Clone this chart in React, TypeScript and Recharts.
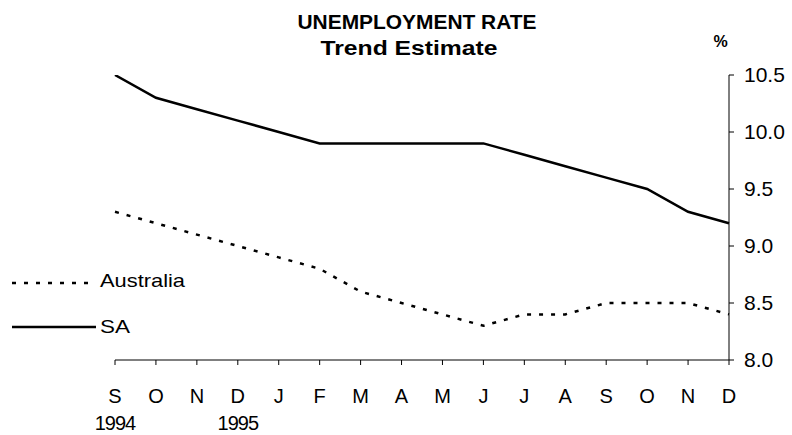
import { LineChart, Line, XAxis, YAxis } from 'recharts';

const months = ['S', 'O', 'N', 'D', 'J', 'F', 'M', 'A', 'M', 'J', 'J', 'A', 'S', 'O', 'N', 'D'];
const years = ['1994', '', '', '1995', '', '', '', '', '', '', '', '', '', '', '', ''];
const sa = [10.5, 10.3, 10.2, 10.1, 10.0, 9.9, 9.9, 9.9, 9.9, 9.9, 9.8, 9.7, 9.6, 9.5, 9.3, 9.2];
const australia = [9.3, 9.2, 9.1, 9.0, 8.9, 8.8, 8.6, 8.5, 8.4, 8.3, 8.4, 8.4, 8.5, 8.5, 8.5, 8.4];
const yTicks = [8.0, 8.5, 9.0, 9.5, 10.0, 10.5];

const data = months.map((m, i) => ({
  key: i,
  month: m,
  year: years[i],
  sa: sa[i],
  australia: australia[i],
}));

const font = '"Liberation Sans", Arial, sans-serif';
const dotted = '4 8';

function MonthTick(props: any) {
  const { x, y, payload } = props;
  const d = data[payload.value];
  return (
    <g>
      <text x={x} y={y + 36} textAnchor="middle" fontSize={20} fontFamily={font} fill="#000">
        {d.month}
      </text>
      {d.year && (
        <text x={x} y={y + 63} textAnchor="middle" fontSize={20} fontFamily={font} fill="#000" letterSpacing={-1}>
          {d.year}
        </text>
      )}
    </g>
  );
}

function Overlay() {
  return (
    <svg
      width={792}
      height={435}
      style={{ position: 'absolute', left: 0, top: 0, pointerEvents: 'none' }}
      fontFamily={font}
    >
      <text x={417} y={29} textAnchor="middle" fontSize={21} fontWeight="bold" textLength={239} lengthAdjust="spacingAndGlyphs">
        UNEMPLOYMENT RATE
      </text>
      <text x={409} y={55} textAnchor="middle" fontSize={20} fontWeight="bold" textLength={177} lengthAdjust="spacingAndGlyphs">
        Trend Estimate
      </text>
      <text x={720} y={47} textAnchor="middle" fontSize={16} fontWeight="bold" letterSpacing={-1}>
        %
      </text>
      <line x1={12} x2={92} y1={283} y2={283} stroke="#000" strokeWidth={2.5} strokeDasharray={dotted} />
      <text x={100} y={287} fontSize={19} textLength={85} lengthAdjust="spacingAndGlyphs">
        Australia
      </text>
      <line x1={12} x2={96} y1={327} y2={327} stroke="#000" strokeWidth={2.5} />
      <text x={100} y={333} fontSize={19} textLength={30} lengthAdjust="spacingAndGlyphs">
        SA
      </text>
    </svg>
  );
}

export default function App() {
  return (
    <div style={{ position: 'absolute', left: 0, top: 0, width: 792, height: 435, background: '#fff' }}>
      <LineChart width={792} height={435} data={data} margin={{ top: 75, right: 0, bottom: 45, left: 115 }}>
        <XAxis
          dataKey="key"
          type="category"
          padding={{ left: 0, right: 0 }}
          tick={<MonthTick />}
          tickSize={5}
          stroke="#000"
          interval={0}
          height={30}
        />
        <YAxis
          orientation="right"
          domain={[8, 10.5]}
          ticks={yTicks}
          tickFormatter={(v: number) => v.toFixed(1)}
          tick={{ fontSize: 21, fontFamily: font, fill: '#000' }}
          tickSize={5}
          tickMargin={10}
          width={63}
          stroke="#000"
          allowDataOverflow
        />
        <Line dataKey="sa" stroke="#000" strokeWidth={2.5} dot={false} isAnimationActive={false} />
        <Line dataKey="australia" stroke="#000" strokeWidth={2.5} strokeDasharray={dotted} dot={false} isAnimationActive={false} />
      </LineChart>
      <Overlay />
    </div>
  );
}
